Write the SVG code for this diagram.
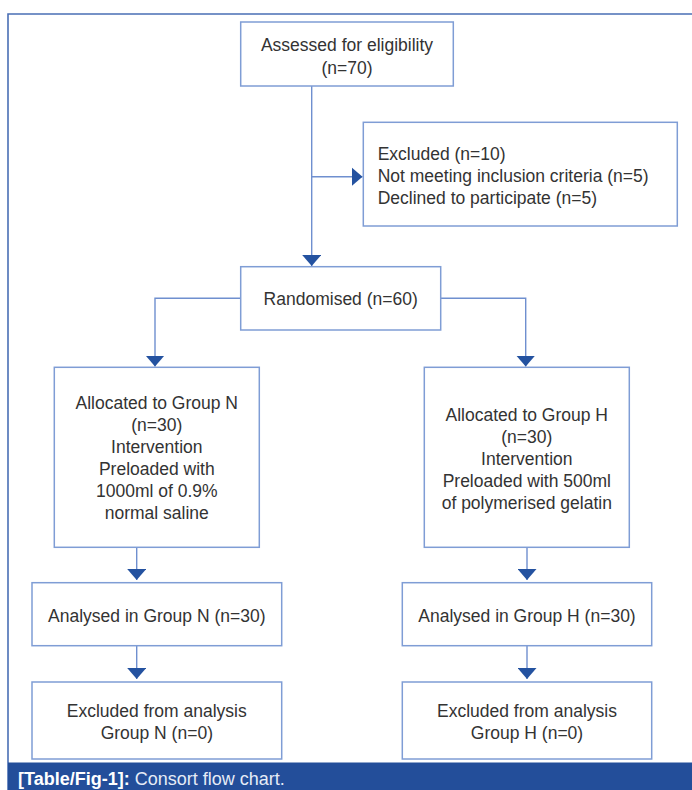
<svg xmlns="http://www.w3.org/2000/svg" width="692" height="790" viewBox="0 0 692 790">
  <style>
    .box { fill: #ffffff; stroke: #7f9dd5; stroke-width: 1.5; }
    .t { font-family: "Liberation Sans", Arial, sans-serif; font-size: 17.5px; fill: #333333; }
    .c { text-anchor: middle; }
    .conn { fill: none; stroke: #6f8fcf; stroke-width: 1.4; }
    .cap { font-family: "Liberation Sans", Arial, sans-serif; font-size: 18px; fill: #ffffff; }
  </style>
  <defs>
    <marker id="arr" viewBox="0 0 11 19" refX="11" refY="9.5" markerWidth="11" markerHeight="19" markerUnits="userSpaceOnUse" orient="auto">
      <path d="M0,0 L11,9.5 L0,19 Z" fill="#2452a0"/>
    </marker>
  </defs>
  <rect x="0" y="0" width="692" height="790" fill="#ffffff"/>
  <path d="M8,790 V14 H692" fill="none" stroke="#4a6fb5" stroke-width="1.6"/>

  <g id="connectors">
    <path class="conn" d="M311.7,86 V266" marker-end="url(#arr)"/>
    <path class="conn" d="M311.7,176.7 H362.5" marker-end="url(#arr)"/>
    <path class="conn" d="M240.7,298.3 H155 V366.5" marker-end="url(#arr)"/>
    <path class="conn" d="M440.7,298.3 H525.7 V366.5" marker-end="url(#arr)"/>
    <path class="conn" d="M136.7,547.3 V580" marker-end="url(#arr)"/>
    <path class="conn" d="M136.7,645.7 V679" marker-end="url(#arr)"/>
    <path class="conn" d="M527,547.3 V580" marker-end="url(#arr)"/>
    <path class="conn" d="M527,645.7 V679" marker-end="url(#arr)"/>
  </g>

  <g id="assessed">
    <rect class="box" x="240.7" y="22" width="212.6" height="64"/>
    <text class="t c" x="347" y="51">Assessed for eligibility</text>
    <text class="t c" x="347" y="74">(n=70)</text>
  </g>

  <g id="excluded">
    <rect class="box" x="363.3" y="122.3" width="314" height="103.7"/>
    <text class="t" x="377.7" y="160">Excluded (n=10)</text>
    <text class="t" x="377.7" y="182">Not meeting inclusion criteria (n=5)</text>
    <text class="t" x="377.7" y="204">Declined to participate (n=5)</text>
  </g>

  <g id="randomised">
    <rect class="box" x="240.7" y="266.7" width="200" height="63.3"/>
    <text class="t c" x="340.7" y="305">Randomised (n=60)</text>
  </g>

  <g id="groupN">
    <rect class="box" x="54.3" y="367.3" width="205" height="180"/>
    <text class="t c" x="156.8" y="409">Allocated to Group N</text>
    <text class="t c" x="156.8" y="431">(n=30)</text>
    <text class="t c" x="156.8" y="453">Intervention</text>
    <text class="t c" x="156.8" y="475">Preloaded with</text>
    <text class="t c" x="156.8" y="497">1000ml of 0.9%</text>
    <text class="t c" x="156.8" y="519">normal saline</text>
  </g>

  <g id="groupH">
    <rect class="box" x="424.3" y="367.3" width="205" height="180"/>
    <text class="t c" x="526.8" y="421">Allocated to Group H</text>
    <text class="t c" x="526.8" y="443">(n=30)</text>
    <text class="t c" x="526.8" y="465">Intervention</text>
    <text class="t c" x="526.8" y="487">Preloaded with 500ml</text>
    <text class="t c" x="526.8" y="509">of polymerised gelatin</text>
  </g>

  <g id="analysedN">
    <rect class="box" x="32" y="582.7" width="249.7" height="63"/>
    <text class="t c" x="156.8" y="621.5">Analysed in Group N (n=30)</text>
  </g>

  <g id="analysedH">
    <rect class="box" x="402.3" y="582.7" width="249.4" height="63"/>
    <text class="t c" x="527" y="621.5">Analysed in Group H (n=30)</text>
  </g>

  <g id="exclN">
    <rect class="box" x="32" y="682" width="249.7" height="77"/>
    <text class="t c" x="156.8" y="717">Excluded from analysis</text>
    <text class="t c" x="156.8" y="739">Group N (n=0)</text>
  </g>

  <g id="exclH">
    <rect class="box" x="402.3" y="682" width="249.4" height="77"/>
    <text class="t c" x="527" y="717">Excluded from analysis</text>
    <text class="t c" x="527" y="739">Group H (n=0)</text>
  </g>

  <g id="caption">
    <rect x="8" y="762.5" width="684" height="27.5" fill="#234e9a"/>
    <text class="cap" x="18" y="784.5"><tspan font-weight="bold">[Table/Fig-1]:</tspan> <tspan fill="#e6ecf7">Consort flow chart.</tspan></text>
  </g>
</svg>
